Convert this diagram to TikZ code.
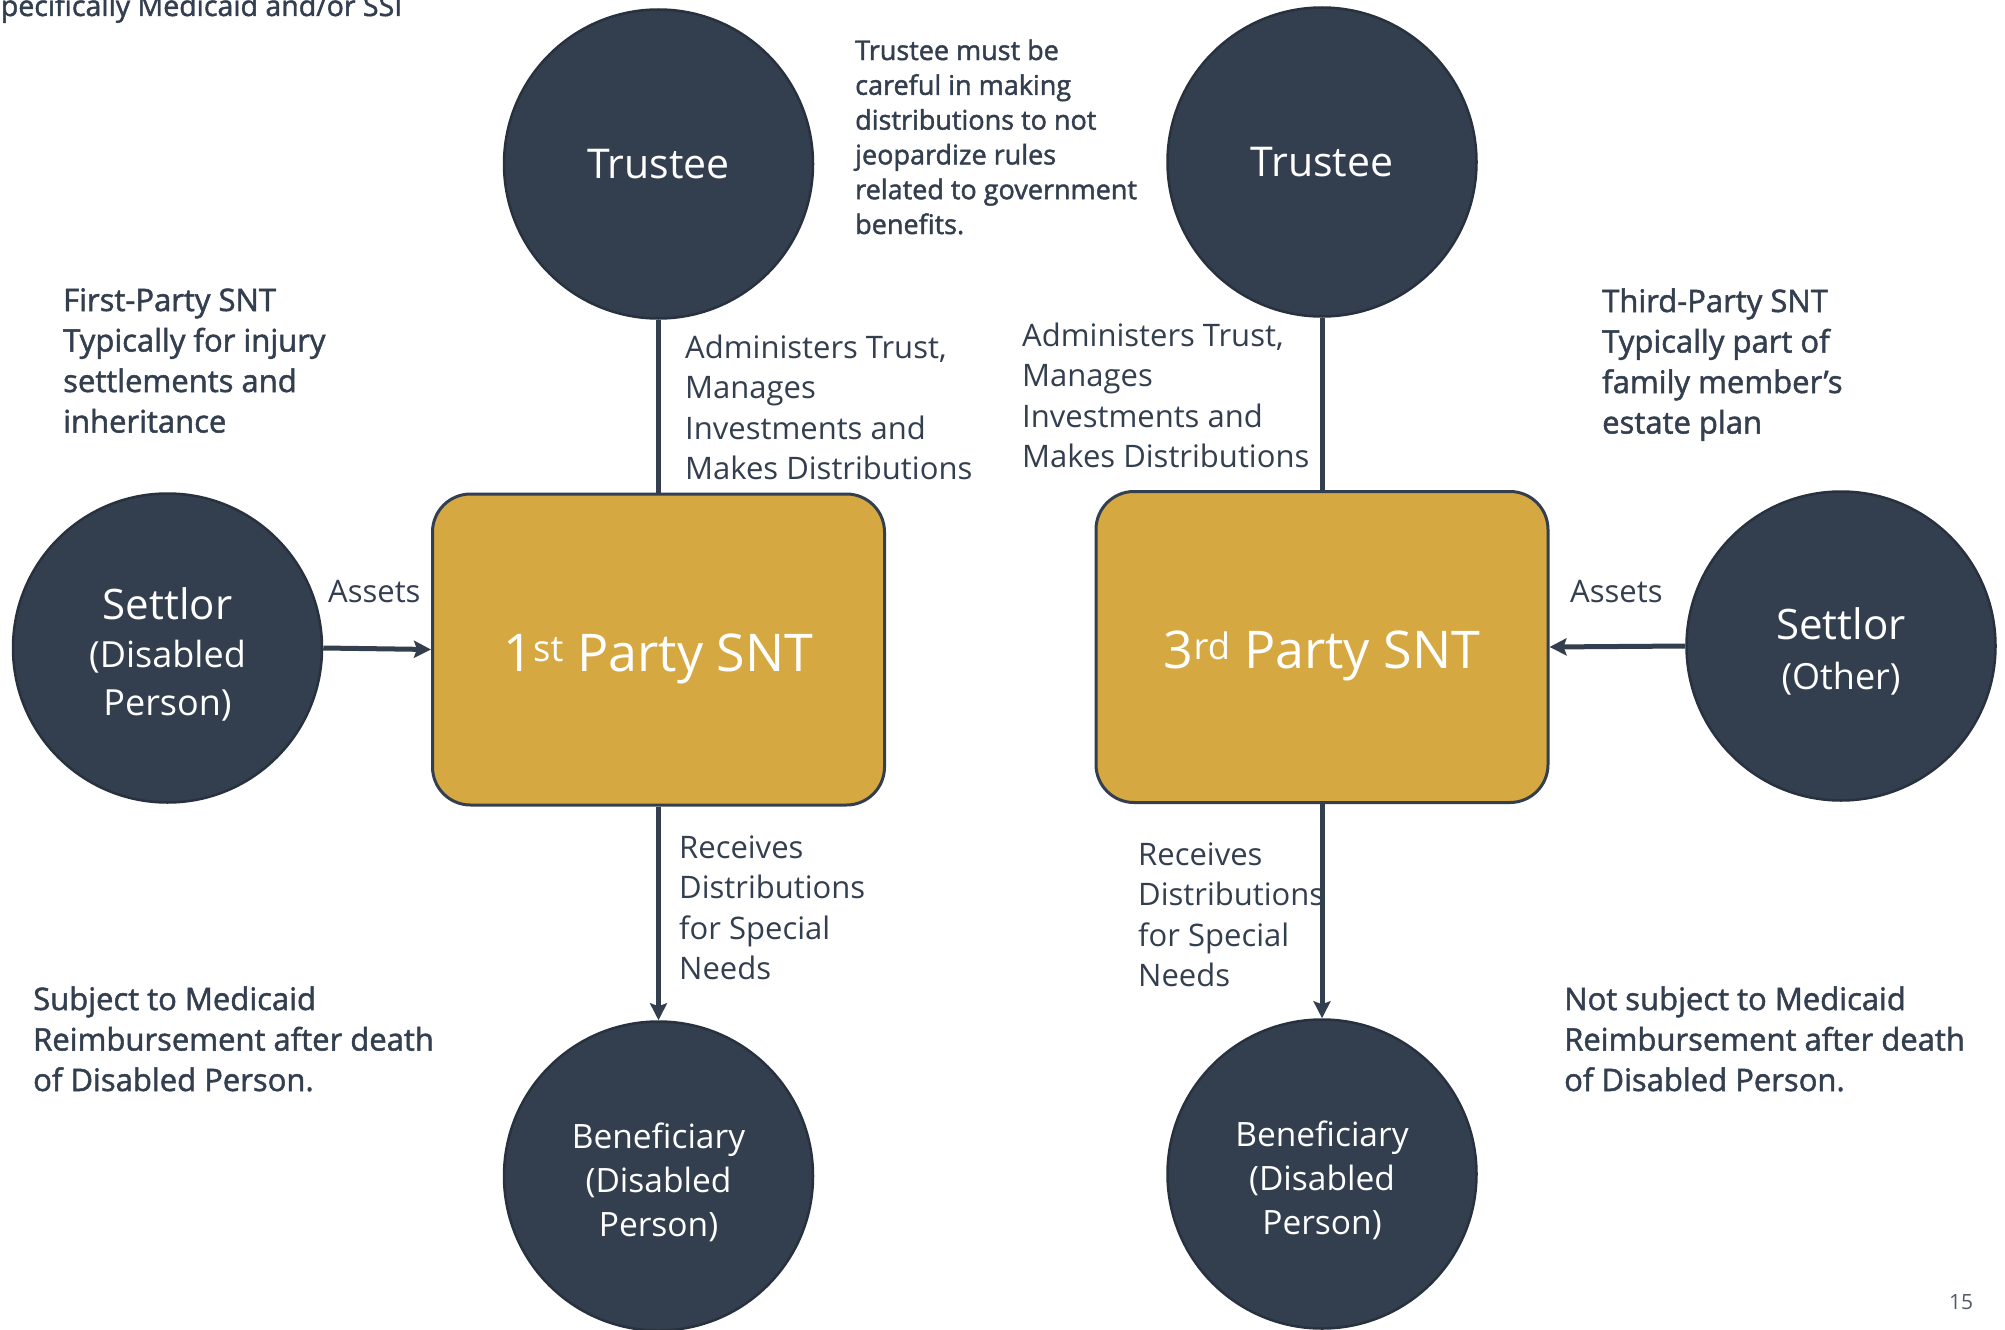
\documentclass[tikz,border=0pt]{standalone}
\usepackage{fontspec}
\setmainfont{Open Sans}
\newfontfamily\medfont{Open Sans}[FakeBold=1.6]
\usetikzlibrary{arrows.meta}
\definecolor{navy}{HTML}{333F4F}
\definecolor{navyedge}{HTML}{28323F}
\definecolor{gold}{HTML}{D6A842}
\newcommand\labelfont{\fontsize{31}{40.5}\selectfont}
\newcommand\notefont{\medfont\fontsize{31}{40.5}\selectfont}
\newcommand\lines[1]{\begin{tabular}[t]{@{}l@{}}#1\end{tabular}}
% invisible strut that lowers a centred block of lines
\newcommand\topgap[1]{\rule{0pt}{#1}}
\begin{document}
\begin{tikzpicture}[x=1pt, y=-1pt,
  party/.style={circle, fill=navy, draw=navyedge, line width=2.5pt,
    minimum size=309pt, inner sep=0pt, text=white, align=center},
  sntbox/.style={rectangle, rounded corners=38pt, fill=gold, draw=navy,
    line width=3pt, minimum width=452pt, minimum height=311pt,
    inner sep=0pt, text=white, text height=43pt, text depth=0pt,
    font=\fontsize{52}{60}\selectfont},
  note/.style={anchor=base west, inner sep=0pt, text=navy, font=\notefont},
  lbl/.style={anchor=base west, inner sep=0pt, text=navy, font=\labelfont},
  link/.style={draw=navy, line width=5pt},
  flow/.style={link, -{Stealth[length=17pt, width=17pt, inset=3pt]}}]
\useasboundingbox (0,0) rectangle (2005,1330);
\clip (0,0) rectangle (2005,1330);
\fill[white] (0,0) rectangle (2005,1330);

% heading line running off the top edge
\node[anchor=base west, inner sep=0pt, text=navy,
      font=\medfont\fontsize{28.5}{34}\selectfont] (title) at (-15,16)
      {Specifically Medicaid and/or SSI};

% first-party trust
\node[party, font=\fontsize{41}{48}\selectfont] (trL) at (658.5,164) {Trustee};
\node[sntbox] (boxL) at (658.5,649.5) {1\textsuperscript{st} Party SNT};
\node[party, font=\fontsize{36}{48}\selectfont] (setL) at (167.5,648)
  {\topgap{44pt}{\fontsize{42}{48}\selectfont Settlor}\\(Disabled\\Person)};
\node[party, font=\fontsize{33.5}{44}\selectfont] (benL) at (658.5,1176)
  {\topgap{38pt}Beneficiary\\(Disabled\\Person)};

% third-party trust
\node[party, font=\fontsize{41}{48}\selectfont] (trR) at (1322,162) {Trustee};
\node[sntbox] (boxR) at (1322,647) {3\textsuperscript{rd} Party SNT};
\node[party, font=\fontsize{36}{50}\selectfont] (setR) at (1841,646)
  {\topgap{42pt}{\fontsize{42}{50}\selectfont Settlor}\\(Other)};
\node[party, font=\fontsize{33.5}{44}\selectfont] (benR) at (1322,1174)
  {\topgap{38pt}Beneficiary\\(Disabled\\Person)};

% connectors
\draw[link] (trL.south) -- (boxL.north);
\draw[flow] (boxL.south) -- (benL.north);
\draw[flow] (setL.east) -- (boxL.west);
\draw[link] (trR.south) -- (boxR.north);
\draw[flow] (boxR.south) -- (benR.north);
\draw[flow] (setR.west) -- (boxR.east);

% connector labels
\node[lbl] (assetsL) at (328,602) {Assets};
\node[lbl] (assetsR) at (1570,602) {Assets};
\node[lbl] (adminL) at (685,358)
  {\lines{Administers Trust,\\Manages\\Investments and\\Makes Distributions}};
\node[lbl] (adminR) at (1022,346)
  {\lines{Administers Trust,\\Manages\\Investments and\\Makes Distributions}};
\node[lbl] (recvL) at (679,858)
  {\lines{Receives\\Distributions\\for Special\\Needs}};
\node[lbl] (recvR) at (1138,865)
  {\lines{Receives\\Distributions\\for Special\\Needs}};

% side notes
\node[note, font=\medfont\fontsize{27}{34.8}\selectfont] (careful) at (855,60)
  {\lines{Trustee must be\\careful in making\\distributions to not\\jeopardize rules\\related to government\\benefits.}};
\node[note] (firstNote) at (63,311)
  {\lines{First-Party SNT\\Typically for injury\\settlements and\\inheritance}};
\node[note] (thirdNote) at (1602,312)
  {\lines{Third-Party SNT\\Typically part of\\family member’s\\estate plan}};
\node[note] (subjNote) at (33,1010)
  {\lines{Subject to Medicaid\\Reimbursement after death\\of Disabled Person.}};
\node[note] (notSubjNote) at (1564,1010)
  {\lines{Not subject to Medicaid\\Reimbursement after death\\of Disabled Person.}};

% slide number
\node[anchor=base, inner sep=0pt, text=navy!85, font=\fontsize{21}{24}\selectfont]
  (page) at (1961,1309) {15};
\end{tikzpicture}
\end{document}
